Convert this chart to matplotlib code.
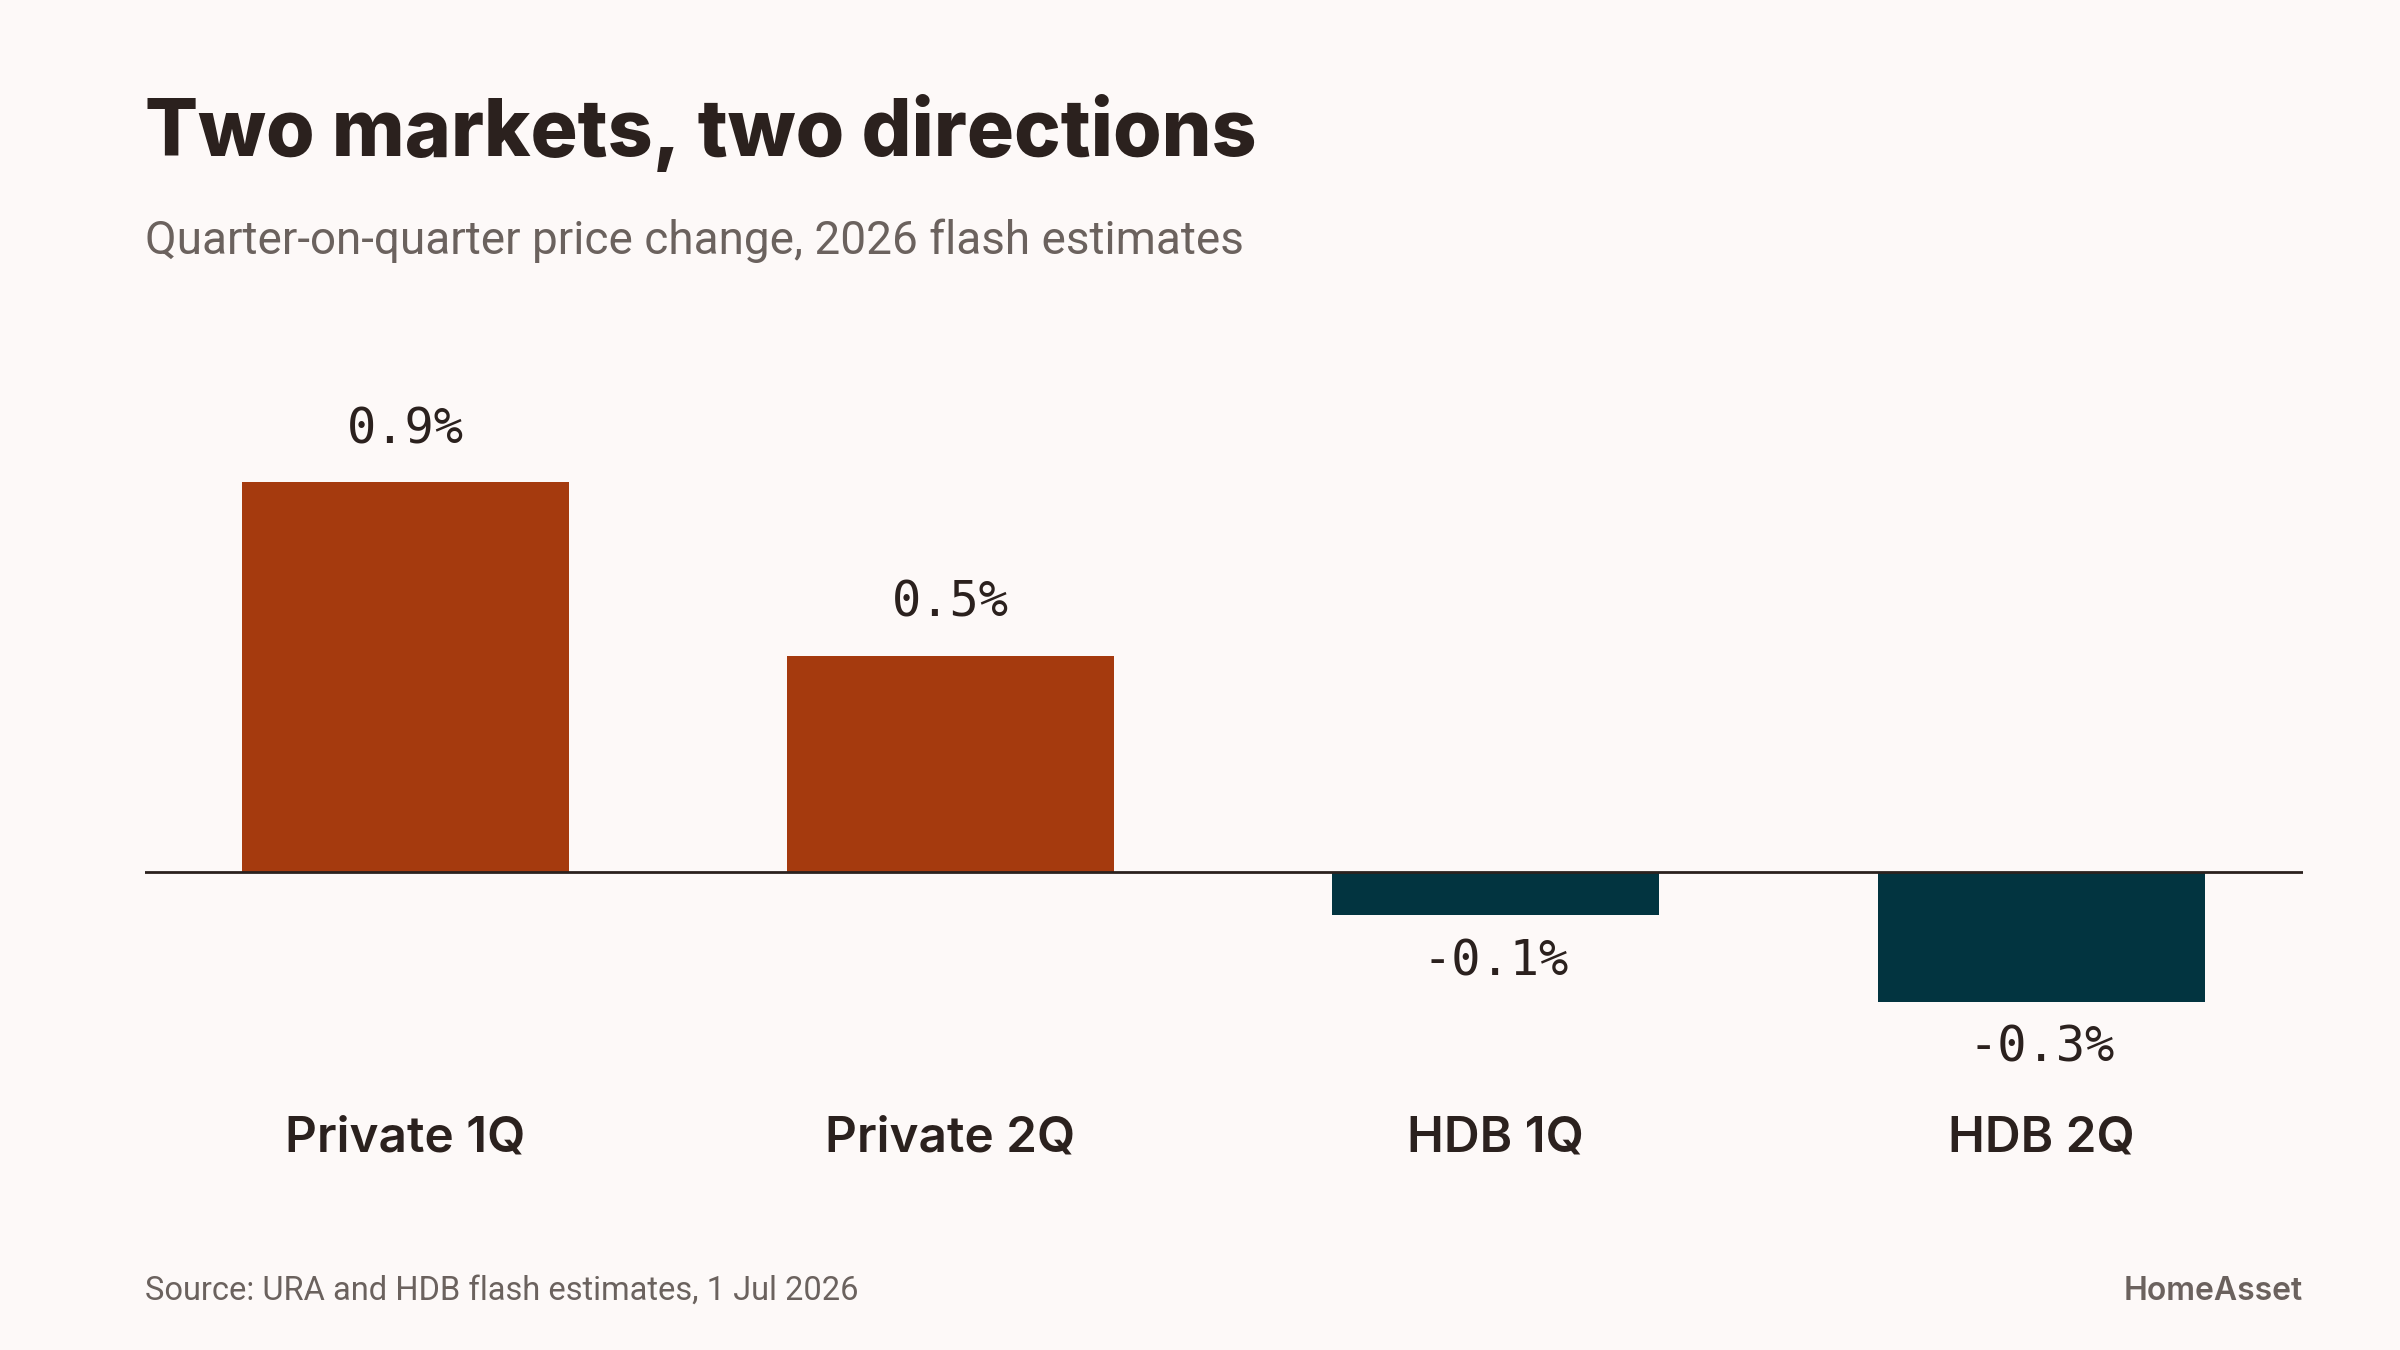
import matplotlib
matplotlib.use("Agg")
import matplotlib.pyplot as plt

categories = ["Private 1Q", "Private 2Q", "HDB 1Q", "HDB 2Q"]
values = [0.9, 0.5, -0.1, -0.3]
value_labels = ["0.9%", "0.5%", "-0.1%", "-0.3%"]
title = "Two markets, two directions"
subtitle = "Quarter-on-quarter price change, 2026 flash estimates"
source = "Source: URA and HDB flash estimates, 1 Jul 2026"
brand = "HomeAsset"

BG = "#fdf9f8"
INK = "#2b211e"
GRAY = "#6b625e"
POS = "#a53a0e"
NEG = "#023440"

W, H, DPI = 2400, 1350, 200
fig = plt.figure(figsize=(W / DPI, H / DPI), dpi=DPI, facecolor=BG)

# axes placement in pixels
ax_left, ax_right = 145, 2303
ax_top, ax_bottom = 400, 1060
zero_px = 872
px_per_unit = 433.0
ax = fig.add_axes([ax_left / W, 1 - ax_bottom / H, (ax_right - ax_left) / W, (ax_bottom - ax_top) / H])
ax.set_facecolor(BG)
ax.set_ylim(-(ax_bottom - zero_px) / px_per_unit, (zero_px - ax_top) / px_per_unit)
ax.set_xlim(-0.477, 3.48)

x = list(range(len(categories)))
colors = [POS if v >= 0 else NEG for v in values]
ax.bar(x, values, width=0.6, color=colors, zorder=2)
ax.axhline(0, color=INK, linewidth=1.0, zorder=3)

mono = ["DejaVu Sans Mono"]
for xi, v, lab in zip(x, values, value_labels):
    off = 19.0 if v >= 0 else -16.5
    ax.annotate(lab, (xi, v), xytext=(0, off), textcoords="offset points",
                ha="center", va="center", fontsize=17.5, color=INK, family=mono)

for s in ax.spines.values():
    s.set_visible(False)
ax.set_xticks([])
ax.set_yticks([])

sans = ["Inter", "DejaVu Sans"]
rob = ["Roboto", "DejaVu Sans"]

for xi, c in zip(x, categories):
    xd = ax.transData.transform((xi, 0))[0] / W
    fig.text(xd, 1 - 1138 / H, c, ha="center", va="center", fontsize=17.8,
             fontweight="semibold", color=INK, family=sans)

fig.text(145 / W, 1 - 133 / H, title, ha="left", va="center", fontsize=28.3,
         fontweight="heavy", color=INK, family=sans)
fig.text(145 / W, 1 - 241 / H, subtitle, ha="left", va="center", fontsize=16.5,
         color=GRAY, family=rob)
fig.text(145 / W, 1 - 1291 / H, source, ha="left", va="center", fontsize=11.75,
         color=GRAY, family=rob)
fig.text(2303 / W, 1 - 1291 / H, brand, ha="right", va="center", fontsize=11.5,
         fontweight="semibold", color=GRAY, family=sans)

fig.savefig("out.png", dpi=DPI, facecolor=BG)
